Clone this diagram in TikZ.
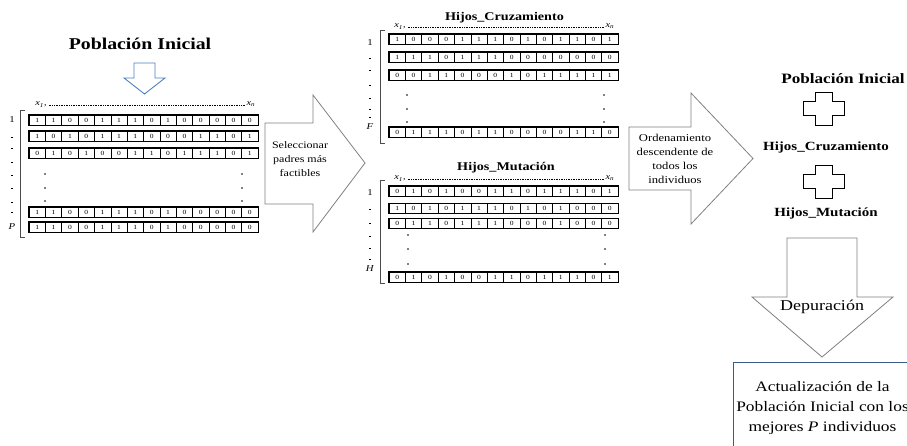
\documentclass[tikz,border=0pt]{standalone}
\usepackage{fontspec}
\setmainfont{Liberation Serif}[FakeStretch=1.2]
\usetikzlibrary{calc}
\definecolor{arrowgray}{RGB}{128,128,128}
\definecolor{officeblue}{RGB}{79,129,189}
\definecolor{boxblue}{RGB}{56,93,138}
\tikzset{
	bitcell/.style={draw, line width=0.5pt, minimum width=16.36pt, minimum height=10pt, inner sep=0pt, font=\fontsize{6.3}{6.3}\selectfont},
	rowframe/.style={line width=0.8pt},
	bigarrow/.style={draw=arrowgray, fill=white, line width=0.8pt, line join=miter},
	bracketline/.style={draw=black!70, line width=0.6pt},
	idxlabel/.style={font=\fontsize{9}{9}\selectfont, inner sep=0pt},
	xlabel/.style={font=\fontsize{8.5}{8.5}\selectfont, inner sep=0pt, anchor=base},
	arrowtext/.style={align=center, inner sep=0pt},
	plussign/.pic={
		\draw[line width=0.8pt] (-8.5,-16.5) -- (8.5,-16.5) -- (8.5,-7) -- (20.5,-7) -- (20.5,7) -- (8.5,7) -- (8.5,16.5) -- (-8.5,16.5) -- (-8.5,7) -- (-20.5,7) -- (-20.5,-7) -- (-8.5,-7) -- cycle;
	}
}
% one chromosome: name, left x, centre y, bits
\newcommand{\bitrow}[4]{%
	\foreach \b [count=\i] in {#4}
		\node[bitcell] (#1-\i) at ({#2+(\i-0.5)*16.36},#3) {\b};
	\draw[rowframe] (#1-1.north west) rectangle (#1-14.south east);
}
\begin{document}
\begin{tikzpicture}[x=1pt, y=-1pt]
	\useasboundingbox (0,0) rectangle (907,446);

	% --- poblacion inicial ---
	\node[font=\bfseries\fontsize{16.5}{18}\selectfont] (popIni) at (140,44) {Población Inicial};
	\draw[draw=officeblue, fill=white, line width=0.9pt] (134,63) -- (155,63) -- (155,78) -- (165,78) -- (144.5,94) -- (124,78) -- (134,78) -- cycle;
	\node[xlabel] (popX1) at (41,106) {\textit{x}\textsubscript{\textit{1}},};
	\node[xlabel] (popXn) at (251,106) {\textit{x}\textsubscript{\textit{n}}};
	\draw[dash pattern=on 0.6pt off 1.1pt, line width=0.5pt] ($(popX1.base east)+(2,-1)$) -- ($(popXn.base west)+(-1,-1)$);
	\bitrow{pop1}{29}{120}{1,1,0,0,1,1,1,0,1,0,0,0,0,0}
	\bitrow{pop2}{29}{136}{1,0,1,0,1,1,1,0,0,0,1,1,0,1}
	\bitrow{pop3}{29}{153}{0,1,0,1,0,0,1,1,0,1,1,1,0,1}
	\bitrow{pop4}{29}{212}{1,1,0,0,1,1,1,0,1,0,0,0,0,0}
	\bitrow{pop5}{29}{227}{1,1,0,0,1,1,1,0,1,0,0,0,0,0}
	\foreach \y in {174,188,201} {
		\fill (45,\y) circle (0.8);
		\fill (242,\y) circle (0.8);
	}
	\draw[bracketline] (25,110) -- (20,110) -- (20,237) -- (25,237);
	\node[idxlabel] (popOne) at (12,120) {1};
	\foreach \y in {137,148,162,175,188,202,212}
		\draw[line width=0.5pt] (11,\y) -- (13,\y);
	\node[idxlabel] (popP) at (12,227) {\textit{P}};

	% --- seleccion ---
	\draw[bigarrow] (265,123) -- (313,123) -- (313,95) -- (365,163) -- (313,232) -- (313,204) -- (265,204) -- cycle;
	\node[arrowtext, font=\fontsize{10}{14}\selectfont] (selText) at (300,159) {Seleccionar\\padres más\\factibles};

	% --- hijos cruzamiento ---
	\node[font=\bfseries\fontsize{11.8}{13}\selectfont, anchor=base] (hijosCruz) at (504.5,21) {Hijos\_Cruzamiento};
	\node[xlabel] (cruzX1) at (400,28) {\textit{x}\textsubscript{\textit{1}},};
	\node[xlabel] (cruzXn) at (610,28) {\textit{x}\textsubscript{\textit{n}}};
	\draw[dash pattern=on 0.6pt off 1.1pt, line width=0.5pt] ($(cruzX1.base east)+(2,-1)$) -- ($(cruzXn.base west)+(-1,-1)$);
	\bitrow{cruz1}{389}{39}{1,0,0,0,1,1,1,0,1,0,1,1,0,1}
	\bitrow{cruz2}{389}{57}{1,1,1,0,1,1,1,0,0,0,0,0,0,0}
	\bitrow{cruz3}{389}{75}{0,0,1,1,0,0,0,1,0,1,1,1,1,1}
	\bitrow{cruz4}{389}{132}{0,1,1,1,0,1,1,0,0,0,0,1,1,0}
	\foreach \y in {95,109,122} {
		\fill (407,\y) circle (0.8);
		\fill (604,\y) circle (0.8);
	}
	\draw[bracketline] (385,30) -- (380,30) -- (380,143) -- (385,143);
	\node[idxlabel] (cruzOne) at (370,43) {1};
	\foreach \y in {58,70,85,98,109,117}
		\draw[line width=0.5pt] (369,\y) -- (371,\y);
	\node[idxlabel] (cruzF) at (370,127) {\textit{F}};

	% --- hijos mutacion ---
	\node[font=\bfseries\fontsize{11.8}{13}\selectfont, anchor=base] (hijosMut) at (506,171) {Hijos\_Mutación};
	\node[xlabel] (mutX1) at (400,180) {\textit{x}\textsubscript{\textit{1}},};
	\node[xlabel] (mutXn) at (610,180) {\textit{x}\textsubscript{\textit{n}}};
	\draw[dash pattern=on 0.6pt off 1.1pt, line width=0.5pt] ($(mutX1.base east)+(2,-1)$) -- ($(mutXn.base west)+(-1,-1)$);
	\bitrow{mut1}{389}{191}{0,1,0,1,0,0,1,1,0,1,1,1,0,1}
	\bitrow{mut2}{389}{208.5}{1,0,1,0,1,1,1,0,1,0,1,0,0,0}
	\bitrow{mut3}{389}{223.5}{0,1,1,0,1,1,1,0,0,0,1,0,0,0}
	\bitrow{mut4}{389}{277}{0,1,0,1,0,0,1,1,0,1,1,1,0,1}
	\foreach \y in {235,249,264} {
		\fill (408,\y) circle (0.8);
		\fill (605,\y) circle (0.8);
	}
	\draw[bracketline] (385,180) -- (380,180) -- (380,283) -- (385,283);
	\node[idxlabel] (mutOne) at (370,193) {1};
	\foreach \y in {209,223,236,248,259}
		\draw[line width=0.5pt] (369,\y) -- (371,\y);
	\node[idxlabel] (mutH) at (370,269) {\textit{H}};

	% --- ordenamiento ---
	\draw[bigarrow] (629,127) -- (691,127) -- (691,93) -- (753,158.5) -- (691,224) -- (691,190) -- (629,190) -- cycle;
	\node[arrowtext, font=\fontsize{10.5}{14}\selectfont] (ordText) at (675,159) {Ordenamiento\\descendente de\\todos los\\individuos};

	% --- union ---
	\node[font=\bfseries\fontsize{14.3}{16}\selectfont, anchor=base] (popFin) at (843,84) {Población Inicial};
	\pic at (823.5,108.5) {plussign};
	\node[font=\bfseries\fontsize{12.5}{14}\selectfont, anchor=base] (cruzFin) at (826,151) {Hijos\_Cruzamiento};
	\pic at (823.5,181.5) {plussign};
	\node[font=\bfseries\fontsize{12.5}{14}\selectfont, anchor=base] (mutFin) at (826,217) {Hijos\_Mutación};

	% --- depuracion ---
	\draw[bigarrow] (787,238) -- (857,238) -- (857,297) -- (893,297) -- (822,357) -- (752,297) -- (787,297) -- cycle;
	\node[font=\fontsize{15}{17}\selectfont] (depText) at (822,307) {Depuración};
	\draw[draw=boxblue, line width=0.8pt] (733,362) rectangle (930,470);
	\node[arrowtext, font=\fontsize{14.5}{20}\selectfont] (actText) at (822.5,408) {Actualización de la\\Población Inicial con los\\mejores \textit{P} individuos};
\end{tikzpicture}
\end{document}
